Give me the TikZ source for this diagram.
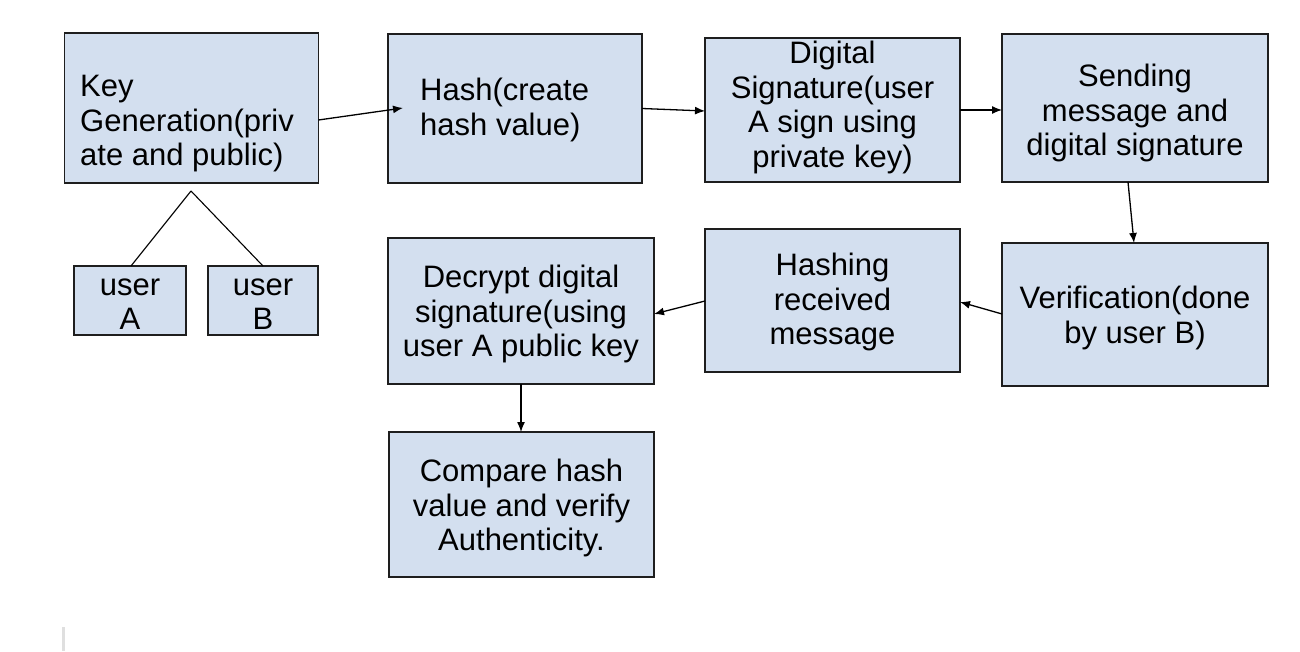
\documentclass[tikz,border=0pt]{standalone}
\usepackage{fontspec}
\setmainfont{Liberation Sans}
\usetikzlibrary{arrows.meta}
\definecolor{boxfill}{RGB}{211,223,239}
\definecolor{boxline}{RGB}{30,30,30}
\tikzset{
  box/.style={draw=boxline, fill=boxfill, line width=1.3pt, inner sep=0pt, outer sep=0pt, rectangle},
  txt/.style={inner sep=0pt, font=\fontsize{31}{34.5}\selectfont, text=black},
  conn/.style={draw=black, line width=1.3pt, -{Latex[length=10pt,width=8pt]}},
  plain/.style={draw=black, line width=1.1pt}
}
\begin{document}
\begin{tikzpicture}[x=1pt,y=-1pt]
\useasboundingbox (0,0) rectangle (1300,652);
\fill[white] (0,0) rectangle (1300,652);
% boxes
\node[box, minimum width=254pt, minimum height=150pt] (kg) at (191.5,108) {};
\node[box, minimum width=112pt, minimum height=69pt] (ua) at (130,300.5) {};
\node[box, minimum width=110pt, minimum height=69pt] (ub) at (263,300.5) {};
\node[box, minimum width=254pt, minimum height=149pt] (hash) at (515,108.5) {};
\node[box, minimum width=255pt, minimum height=144pt] (ds) at (832.5,110) {};
\node[box, minimum width=266pt, minimum height=148pt] (send) at (1135,108) {};
\node[box, minimum width=266pt, minimum height=143pt] (ver) at (1135,314.5) {};
\node[box, minimum width=255pt, minimum height=143pt] (hr) at (832.5,300.5) {};
\node[box, minimum width=266pt, minimum height=146pt] (dec) at (521,311) {};
\node[box, minimum width=265pt, minimum height=145pt] (cmp) at (521.5,504.5) {};
% texts
\node[txt, align=left, anchor=west] (kgT) at (80,124) {Key\\Generation(priv\\ate and public)};
\node[txt, align=center] (uaT) at (130,304) {user\\A};
\node[txt, align=center] (ubT) at (263,304) {user\\B};
\node[txt, align=left, anchor=west] (hashT) at (420,110) {Hash(create\\hash value)};
\node[txt, align=center] (dsT) at (832.5,107.5) {Digital\\Signature(user\\A sign using\\private key)};
\node[txt, align=center] (sendT) at (1135,113) {Sending\\message and\\digital signature};
\node[txt, align=center] (verT) at (1135,318) {Verification(done\\by user B)};
\node[txt, align=center] (hrT) at (832.5,302) {Hashing\\received\\message};
\node[txt, align=center] (decT) at (521,314) {Decrypt digital\\signature(using\\user A public key};
\node[txt, align=center] (cmpT) at (521.5,508) {Compare hash\\value and verify\\Authenticity.};
% tree lines
\coordinate (apex) at (191,191);
\draw[plain] (apex) -- ([xshift=1pt]ua.north);
\draw[plain] (apex) -- (ub.north);
% arrows
\draw[conn] ([yshift=-12pt]kg.east) -- ([xshift=15pt,yshift=0.5pt]hash.west);
\draw[conn] (hash.east) -- ([yshift=-2.5pt]hash.east -| ds.west);
\draw[conn] (ds.east) -- ([yshift=-2pt]send.west);
\draw[conn] ([xshift=-7pt]send.south) -- ([xshift=-1pt]ver.north);
\draw[conn] ([yshift=0.5pt]ver.west) -- ([yshift=-1.5pt]hr.east);
\draw[conn] ([yshift=-0.5pt]hr.west) -- ([yshift=-3pt]dec.east);
\draw[conn] (dec.south) -- (dec.south |- cmp.north);
% cursor mark
\fill[gray!25] (62,627) rectangle (64.5,651);
\end{tikzpicture}
\end{document}
